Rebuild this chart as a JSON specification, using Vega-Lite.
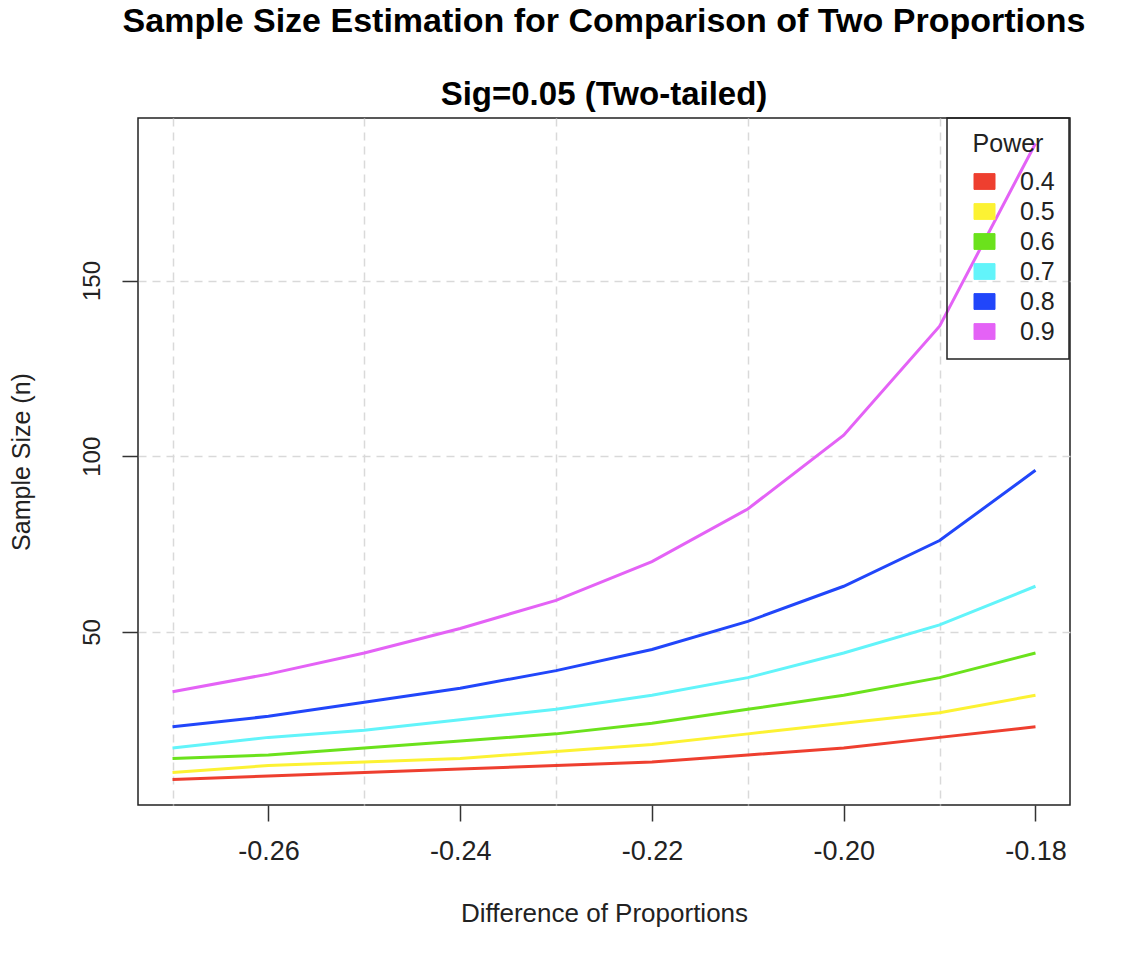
{
  "$schema": "https://vega.github.io/schema/vega-lite/v6.json",
  "width": 932,
  "height": 687,
  "autosize": {"type": "none"},
  "padding": {"left": 138, "top": 118, "right": 68, "bottom": 157},
  "background": "white",
  "title": {
    "text": "Sample Size Estimation for Comparison of Two Proportions",
    "subtitle": "Sig=0.05 (Two-tailed)",
    "font": "Liberation Sans",
    "fontSize": 34,
    "fontWeight": "bold",
    "color": "black",
    "subtitleFont": "Liberation Sans",
    "subtitleFontSize": 33,
    "subtitleFontWeight": "bold",
    "subtitleColor": "black",
    "subtitlePadding": 40,
    "offset": 5,
    "anchor": "middle",
    "frame": "group"
  },
  "data": {
    "values": [
      {"diff": -0.27, "power": "0.4", "n": 8},
      {"diff": -0.26, "power": "0.4", "n": 9},
      {"diff": -0.25, "power": "0.4", "n": 10},
      {"diff": -0.24, "power": "0.4", "n": 11},
      {"diff": -0.23, "power": "0.4", "n": 12},
      {"diff": -0.22, "power": "0.4", "n": 13},
      {"diff": -0.21, "power": "0.4", "n": 15},
      {"diff": -0.20, "power": "0.4", "n": 17},
      {"diff": -0.19, "power": "0.4", "n": 20},
      {"diff": -0.18, "power": "0.4", "n": 23},
      {"diff": -0.27, "power": "0.5", "n": 10},
      {"diff": -0.26, "power": "0.5", "n": 12},
      {"diff": -0.25, "power": "0.5", "n": 13},
      {"diff": -0.24, "power": "0.5", "n": 14},
      {"diff": -0.23, "power": "0.5", "n": 16},
      {"diff": -0.22, "power": "0.5", "n": 18},
      {"diff": -0.21, "power": "0.5", "n": 21},
      {"diff": -0.20, "power": "0.5", "n": 24},
      {"diff": -0.19, "power": "0.5", "n": 27},
      {"diff": -0.18, "power": "0.5", "n": 32},
      {"diff": -0.27, "power": "0.6", "n": 14},
      {"diff": -0.26, "power": "0.6", "n": 15},
      {"diff": -0.25, "power": "0.6", "n": 17},
      {"diff": -0.24, "power": "0.6", "n": 19},
      {"diff": -0.23, "power": "0.6", "n": 21},
      {"diff": -0.22, "power": "0.6", "n": 24},
      {"diff": -0.21, "power": "0.6", "n": 28},
      {"diff": -0.20, "power": "0.6", "n": 32},
      {"diff": -0.19, "power": "0.6", "n": 37},
      {"diff": -0.18, "power": "0.6", "n": 44},
      {"diff": -0.27, "power": "0.7", "n": 17},
      {"diff": -0.26, "power": "0.7", "n": 20},
      {"diff": -0.25, "power": "0.7", "n": 22},
      {"diff": -0.24, "power": "0.7", "n": 25},
      {"diff": -0.23, "power": "0.7", "n": 28},
      {"diff": -0.22, "power": "0.7", "n": 32},
      {"diff": -0.21, "power": "0.7", "n": 37},
      {"diff": -0.20, "power": "0.7", "n": 44},
      {"diff": -0.19, "power": "0.7", "n": 52},
      {"diff": -0.18, "power": "0.7", "n": 63},
      {"diff": -0.27, "power": "0.8", "n": 23},
      {"diff": -0.26, "power": "0.8", "n": 26},
      {"diff": -0.25, "power": "0.8", "n": 30},
      {"diff": -0.24, "power": "0.8", "n": 34},
      {"diff": -0.23, "power": "0.8", "n": 39},
      {"diff": -0.22, "power": "0.8", "n": 45},
      {"diff": -0.21, "power": "0.8", "n": 53},
      {"diff": -0.20, "power": "0.8", "n": 63},
      {"diff": -0.19, "power": "0.8", "n": 76},
      {"diff": -0.18, "power": "0.8", "n": 96},
      {"diff": -0.27, "power": "0.9", "n": 33},
      {"diff": -0.26, "power": "0.9", "n": 38},
      {"diff": -0.25, "power": "0.9", "n": 44},
      {"diff": -0.24, "power": "0.9", "n": 51},
      {"diff": -0.23, "power": "0.9", "n": 59},
      {"diff": -0.22, "power": "0.9", "n": 70},
      {"diff": -0.21, "power": "0.9", "n": 85},
      {"diff": -0.20, "power": "0.9", "n": 106},
      {"diff": -0.19, "power": "0.9", "n": 137},
      {"diff": -0.18, "power": "0.9", "n": 189}
    ]
  },
  "mark": {"type": "line", "strokeWidth": 3, "interpolate": "linear"},
  "encoding": {
    "x": {
      "field": "diff",
      "type": "quantitative",
      "scale": {"domain": [-0.2736, -0.1764], "nice": false, "zero": false},
      "axis": {
        "title": "Difference of Proportions",
        "values": [-0.27, -0.26, -0.25, -0.24, -0.23, -0.22, -0.21, -0.20, -0.19, -0.18],
        "labelExpr": "abs(round(datum.value*100)) % 2 == 0 ? '-' + format(abs(datum.value), '.2f') : ''",
        "tickOpacity": {"condition": {"test": "abs(round(datum.value*100)) % 2 == 1", "value": 0}, "value": 1},
        "gridOpacity": {"condition": {"test": "abs(round(datum.value*100)) % 2 == 0", "value": 0}, "value": 1},
        "labelFontSize": 27,
        "labelPadding": 17,
        "titlePadding": 36,
        "titleFontSize": 26
      }
    },
    "y": {
      "field": "n",
      "type": "quantitative",
      "scale": {"domain": [0.76, 196.24], "nice": false, "zero": false},
      "axis": {
        "title": "Sample Size (n)",
        "values": [50, 100, 150],
        "labelAngle": -90,
        "labelAlign": "center",
        "labelBaseline": "bottom",
        "labelFontSize": 24,
        "labelPadding": 18,
        "titlePadding": 46,
        "titleFontSize": 25
      }
    },
    "color": {
      "field": "power",
      "type": "nominal",
      "scale": {
        "domain": ["0.4", "0.5", "0.6", "0.7", "0.8", "0.9"],
        "range": ["#EE3F2F", "#FCF233", "#6BE21C", "#62F4FA", "#2146FA", "#E462F6"]
      },
      "legend": {
        "title": "Power",
        "orient": "none",
        "legendX": 809,
        "legendY": 0,
        "strokeColor": "#222",
        "padding": 14,
        "titleFont": "Liberation Sans",
        "titleFontSize": 25,
        "titleFontWeight": "normal",
        "titleColor": "#222",
        "titleAnchor": "middle",
        "titlePadding": 12,
        "labelFont": "Liberation Sans",
        "labelFontSize": 25,
        "labelColor": "#222",
        "symbolType": "M-1,-0.75H1V0.75H-1Z",
        "symbolSize": 441,
        "symbolOffset": 11,
        "symbolStrokeColor": "#222",
        "symbolStrokeWidth": 1,
        "labelOffset": 23,
        "rowPadding": 4,
        "encode": {
          "symbols": {
            "enter": {
              "stroke": {"value": "#222"},
              "strokeWidth": {"value": 1}
            },
            "update": {
              "fill": {"scale": "color", "field": "value"},
              "fillOpacity": {"value": 1},
              "stroke": {"value": "#222"},
              "strokeWidth": {"value": 1}
            }
          },
          "legend": {
            "update": {
              "strokeWidth": {"value": 1.5}
            }
          }
        }
      }
    }
  },
  "config": {
    "view": {"stroke": "#222", "strokeWidth": 1.5},
    "font": "Liberation Sans",
    "axis": {
      "labelFont": "Liberation Sans",
      "titleFont": "Liberation Sans",
      "titleFontWeight": "normal",
      "labelColor": "#222",
      "titleColor": "#222",
      "domain": false,
      "tickSize": 16,
      "tickWidth": 1.5,
      "tickColor": "#333",
      "grid": true,
      "gridColor": "#d9d9d9",
      "gridDash": [8, 6],
      "gridWidth": 1.5
    }
  }
}
